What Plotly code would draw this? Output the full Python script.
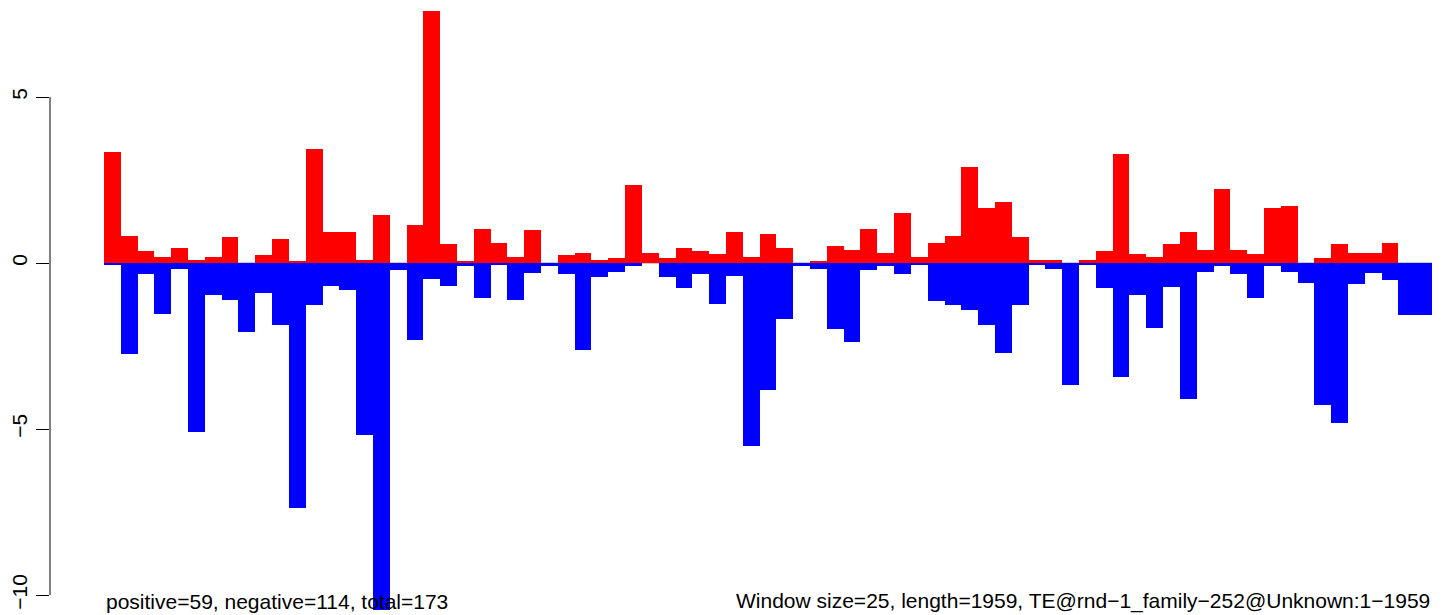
import plotly.graph_objects as go

# one value per 25-bp window (79 windows over 1959 bp)
positive_scores = [
    3.34, 0.81, 0.36, 0.18, 0.45, 0.09, 0.18, 0.78, 0.00, 0.24,
    0.72, 0.06, 3.43, 0.93, 0.93, 0.09, 1.45, 0.00, 1.14, 7.59,
    0.57, 0.06, 1.02, 0.60, 0.18, 0.99, 0.00, 0.24, 0.30, 0.09,
    0.15, 2.35, 0.30, 0.15, 0.45, 0.36, 0.27, 0.93, 0.18, 0.87,
    0.45, 0.00, 0.06, 0.51, 0.39, 1.02, 0.30, 1.51, 0.18, 0.60,
    0.81, 2.89, 1.66, 1.84, 0.78, 0.09, 0.09, 0.00, 0.09, 0.36,
    3.28, 0.27, 0.18, 0.57, 0.93, 0.39, 2.23, 0.39, 0.27, 1.66,
    1.72, 0.00, 0.15, 0.57, 0.30, 0.30, 0.60, 0.00, 0.00,
]
negative_scores = [
    -0.06, -2.74, -0.33, -1.54, -0.18, -5.09, -0.96, -1.11, -2.08, -0.90,
    -1.87, -7.38, -1.27, -0.69, -0.81, -5.18, -10.45, -0.21, -2.32, -0.48,
    -0.69, -0.09, -1.05, -0.03, -1.11, -0.30, -0.09, -0.33, -2.62, -0.42,
    -0.27, -0.09, 0.00, -0.42, -0.75, -0.33, -1.23, -0.39, -5.51, -3.83,
    -1.69, -0.08, -0.18, -1.99, -2.38, -0.21, -0.09, -0.33, -0.06, -1.14,
    -1.27, -1.42, -1.87, -2.71, -1.27, -0.06, -0.18, -3.67, -0.06, -0.75,
    -3.43, -0.96, -1.96, -0.72, -4.10, -0.27, -0.09, -0.33, -1.05, -0.09,
    -0.27, -0.60, -4.28, -4.82, -0.63, -0.30, -0.51, -1.57, -1.57,
]
windows = list(range(len(positive_scores)))

y_ticks = [-10, -5, 0, 5]
y_tick_labels = ["\u221210", "\u22125", "0", "5"]

left_note = "positive=59, negative=114, total=173"
right_note = "Window size=25, length=1959, TE@rnd\u22121_family\u2212252@Unknown:1\u22121959"

fig = go.Figure()
fig.add_trace(go.Bar(x=windows, y=positive_scores, width=1,
                     marker=dict(color="#FF0000", line=dict(width=0))))
fig.add_trace(go.Bar(x=windows, y=negative_scores, width=1,
                     marker=dict(color="#0000FF", line=dict(width=0))))

# zero line under the bars
fig.add_shape(type="line", xref="x", yref="y", x0=-0.5, x1=len(windows) - 0.5,
              y0=0, y1=0, line=dict(color="#909090", width=1), layer="below")
# R-style axis line that only spans the tick range
fig.add_shape(type="line", xref="paper", yref="y", x0=0, x1=0,
              y0=min(y_ticks), y1=max(y_ticks), line=dict(color="black", width=1))

fig.add_annotation(x=-0.5, y=0.023, xref="x", yref="paper", text=left_note,
                   showarrow=False, xanchor="left", yanchor="middle",
                   font=dict(size=21, color="black"))
fig.add_annotation(x=len(windows) - 0.5, y=0.023, xref="x", yref="paper", text=right_note,
                   showarrow=False, xanchor="right", yanchor="middle",
                   font=dict(size=21, color="black"))

# page body has an 8px margin, so the figure is sized to sit inside the window
fig.update_layout(
    width=1436,
    height=607,
    barmode="overlay",
    bargap=0,
    showlegend=False,
    plot_bgcolor="white",
    paper_bgcolor="white",
    margin=dict(l=42, r=0, t=0, b=0, autoexpand=False),
    font=dict(family="Liberation Sans, Arial, sans-serif", size=21, color="black"),
)
fig.update_xaxes(range=[-3.71, 79.21], visible=False, showgrid=False, zeroline=False)
fig.update_yaxes(
    range=[-10.602, 7.681],
    tickvals=y_ticks,
    ticktext=y_tick_labels,
    tickangle=-90,
    ticks="outside",
    ticklen=13,
    tickwidth=1,
    tickcolor="black",
    ticklabelstandoff=1,
    automargin=False,
    showline=False,
    showgrid=False,
    zeroline=False,
)

fig.write_html("out.html")
